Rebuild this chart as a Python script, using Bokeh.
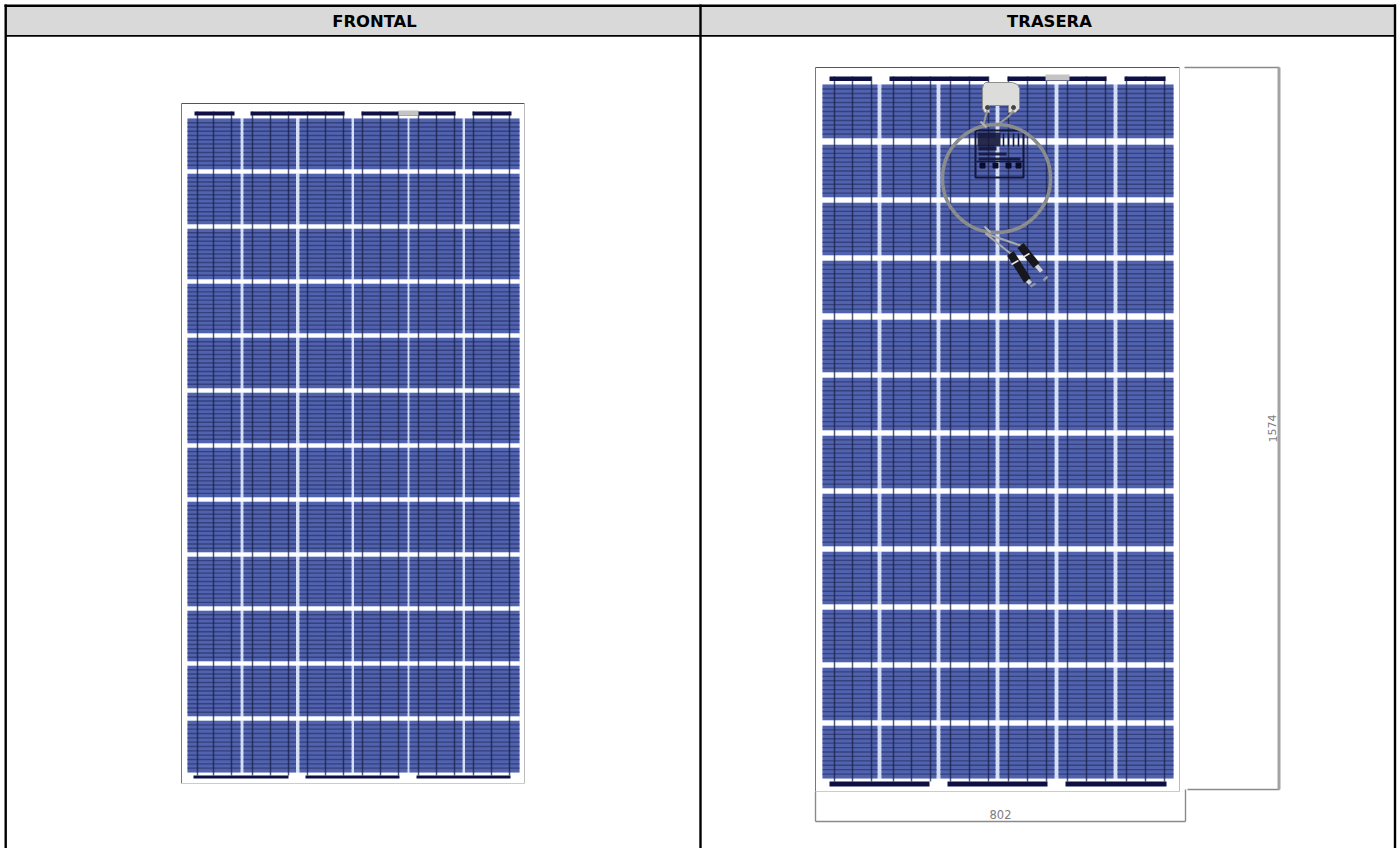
from bokeh.plotting import figure
from bokeh.models import Range1d, Label
from bokeh.embed import file_html
from bokeh.resources import INLINE

titles = ["FRONTAL", "TRASERA"]
dim_h = "1574"
dim_w = "802"

# front panel (outer frame, cell rows and columns)
f_frame = (181, 524, 103, 783)
f_col_l = [187, 243, 299, 353.5, 409, 464.5]
f_col_r = [240, 295.5, 351, 407, 462, 519]
f_row_t = [118, 173, 228, 283, 337, 392, 447, 501, 556, 610, 665, 720]
f_row_b = [169, 224, 279, 333, 388, 443, 497, 552, 606, 661, 716, 772]
f_top_l = [194, 250, 361, 472]
f_top_r = [234, 344, 455, 511]
f_bot_l = [193, 305, 416]
f_bot_r = [288, 399, 510]
f_patch = (398, 418, 110, 115)
f_bars = [197, 213, 231, 252, 270, 288, 307, 325, 343, 362, 380, 398, 418, 436, 454, 473, 491, 509]
f_strips = (111, 115, 775, 778)

# back panel
b_frame = (815, 1179, 67, 791)
b_col_l = [822, 881, 940, 999, 1058, 1117]
b_col_r = [877, 936, 995, 1054, 1113, 1173]
b_row_t = [84, 144, 202, 260, 319, 377, 435, 493, 551, 609, 667, 725]
b_row_b = [138, 197, 255, 313, 372, 430, 488, 546, 604, 662, 720, 778]
b_top_l = [829, 889, 1007, 1124]
b_top_r = [871, 988, 1106, 1165]
b_bot_l = [829, 947, 1065]
b_bot_r = [929, 1047, 1166]
b_patch = (1045, 1069, 74, 80)
b_bars = [834, 852, 871, 893, 911, 930, 950, 969, 988, 1008, 1027, 1046, 1067, 1086, 1105, 1126, 1145, 1164]
b_strips = (76, 80.5, 781, 786)

CELL = "#5163ae"
LINE = "#2c356f"
BAR = "#1a2048"
NAVY = "#0d0f45"
PALE = "#d5dff6"
FINGERS = 11

p = figure(width=1398, height=848, x_range=Range1d(0, 1398), y_range=Range1d(848, 0),
           toolbar_location=None, output_backend="svg", min_border=0,
           x_axis_location=None, y_axis_location=None, outline_line_color=None,
           background_fill_color="white", border_fill_color="white")
p.grid.visible = False


def quad(l, r, t, b, color, **kw):
    p.quad(left=l, right=r, top=t, bottom=b, fill_color=color, line_color=None, **kw)


def panel(frame, col_l, col_r, row_t, row_b, top_l, top_r, bot_l, bot_r, patch, bars, strips):
    x0, x1, y0, y1 = frame
    quad([col_l[0]], [col_r[-1]], [row_t[0]], [row_b[-1]], PALE)
    cl, cr, ct, cb = [], [], [], []
    for l, r in zip(col_l, col_r):
        for t, b in zip(row_t, row_b):
            cl.append(l); cr.append(r); ct.append(t); cb.append(b)
    quad(cl, cr, ct, cb, CELL)
    quad([x0 + 5] * 11, [x1 - 5] * 11, row_b[:-1], row_t[1:], "white")
    xs, ys = [], []
    for l, r in zip(col_l, col_r):
        for t, b in zip(row_t, row_b):
            for k in range(1, FINGERS + 1):
                y = t + (b - t) * k / (FINGERS + 1)
                xs.append([l, r]); ys.append([y, y])
    p.multi_line(xs, ys, line_color=LINE, line_width=1.4, line_alpha=0.75)
    p.multi_line([[x, x] for x in bars], [[strips[0], row_b[-1] + 3] for x in bars],
                 line_color=BAR, line_width=1.5, line_alpha=0.75)
    quad(top_l, top_r, [strips[0]] * len(top_l), [strips[1]] * len(top_l), NAVY)
    quad(bot_l, bot_r, [strips[2]] * len(bot_l), [strips[3]] * len(bot_l), NAVY)
    quad([patch[0]], [patch[1]], [patch[2]], [patch[3]], "#c4c4c4")
    p.multi_line([[x0, x1], [x0, x0], [x1, x1], [x0, x1]], [[y0, y0], [y0, y1], [y0, y1], [y1, y1]],
                 line_color=["#555555", "#777777", "#bbbbbb", "#cccccc"], line_width=1)


panel(f_frame, f_col_l, f_col_r, f_row_t, f_row_b, f_top_l, f_top_r, f_bot_l, f_bot_r, f_patch, f_bars, f_strips)
panel(b_frame, b_col_l, b_col_r, b_row_t, b_row_b, b_top_l, b_top_r, b_bot_l, b_bot_r, b_patch, b_bars, b_strips)

# label block on the back
p.rect([999], [153.5], 48, 47, fill_alpha=0, line_color="#14163a", line_width=2)
quad([977, 978, 978, 978], [1000, 996, 1006, 1020], [132, 146, 152, 157], [146, 150, 155, 160], "#16183c", fill_alpha=0.92)
p.multi_line([[1003, 1003], [1008, 1008], [1013, 1013], [1018, 1018], [976, 1023]],
             [[133, 146], [133, 146], [133, 146], [133, 146], [161, 161]],
             line_color="#14163a", line_width=1.6)
p.scatter([982, 995, 1008, 1018], [165, 165, 165, 165], size=5, marker="square", color="#0b0c2a")

# junction box
p.patch([985, 1012, 1017, 1019, 1019, 1015, 1008, 1008, 989, 989, 984, 982, 982, 983],
        [82, 82, 84, 88, 108, 112, 112, 105, 105, 112, 112, 108, 88, 84],
        fill_color="#dcdcda", line_color="#8d8d8d", line_width=1)
p.multi_line([[987, 985, 983], [1013, 1008, 1000, 994]], [[110, 116, 124], [110, 116, 122, 126]],
             line_color="#9a9a9a", line_width=2)
p.scatter([987, 1013], [107, 107], size=4, marker="circle", color="#444444")

# cable loop
p.ellipse([996], [178], 108, 108, fill_alpha=0, line_color="#8a8c8e", line_width=3.5)
p.multi_line([[984, 990], [980, 986]], [[226, 232], [121, 127]], line_color="#b5b5b5", line_width=2)

# connectors
p.multi_line([[985, 1010], [985, 1020]], [[233, 253], [233, 245]], line_color="#a9a9a9", line_width=2)
p.multi_line([[1010, 1027], [1020, 1036]], [[253, 280], [245, 265]], line_color="#17171e", line_width=8)
p.multi_line([[1027, 1030], [1036, 1041]], [[280, 283], [265, 271]], line_color="#d4d4d4", line_width=4)
p.multi_line([[1011, 1018], [1022, 1029]], [[264, 260], [257, 253]], line_color="#e6e6e6", line_width=1.6)
p.multi_line([[1030, 1035], [1043, 1047]], [[286, 283], [280, 276]], line_color="#9096aa", line_width=2.5)

# dimension lines
p.multi_line([[1184, 1279], [1187, 1279], [1185, 1185], [815, 1185], [815, 815]],
             [[67, 67], [789, 789], [789, 821], [821, 821], [791, 821]],
             line_color="#8a8a8a", line_width=1.4)
p.line([1278.5, 1278.5], [67, 789], line_color="#a3a3a3", line_width=3)
p.add_layout(Label(x=1272, y=428, text=dim_h, angle=1.5708, text_color="#7d7d7d", text_font_size="11px",
                   text_align="center", text_baseline="middle", text_font="DejaVu Sans"))
p.add_layout(Label(x=1000, y=814, text=dim_w, text_color="#7d7d7d", text_font_size="11.5px",
                   text_align="center", text_baseline="middle", text_font="DejaVu Sans"))

# table header
quad([5], [1395], [5], [35], "#d9d9d9")
p.multi_line([[4, 1395.5], [5.2, 5.2], [700, 700], [1394.5, 1394.5]],
             [[5.2, 5.2], [4, 848], [4, 848], [4, 848]],
             line_color="#000000", line_width=2.4)
p.line([5, 1395], [35.4, 35.4], line_color="#000000", line_width=1.6)
p.add_layout(Label(x=374, y=21, text=titles[0], text_color="#000000", text_font_size="16.4px",
                   text_font_style="bold", text_align="center", text_baseline="middle", text_font="DejaVu Sans"))
p.add_layout(Label(x=1049, y=21, text=titles[1], text_color="#000000", text_font_size="16.4px",
                   text_font_style="bold", text_align="center", text_baseline="middle", text_font="DejaVu Sans"))

open("out.html", "w").write(file_html(p, INLINE))
